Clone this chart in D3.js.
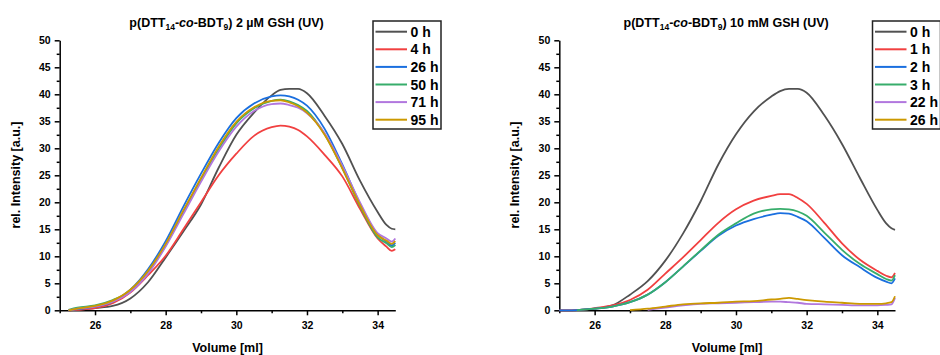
<html>
<head>
<script src="https://d3js.org/d3.v7.min.js"></script>
<style>
  body { margin: 0; background: #fff; }
  text { font-family: "Liberation Sans", Arial, sans-serif; font-weight: bold; fill: #000; }
  .axis path, .axis line { stroke: #000; stroke-width: 1.5; }
  .axis text { font-size: 10.5px; }
</style>
</head>
<body>
<svg id="chart" width="940" height="355"></svg>
<script>
// shared elution volumes (ml)
const volume = [25, 25.25, 25.5, 26, 26.5, 27, 27.5, 28, 28.5, 29, 29.5, 30, 30.5, 31, 31.25, 31.5, 31.75, 32, 32.5, 33, 33.5, 34, 34.25, 34.4, 34.5];

// panel 1: 2 uM GSH
const labels2uM = ["0 h", "4 h", "26 h", "50 h", "71 h", "95 h"];
const h0_2uM  = [null, 0, 0.1, 0.4, 0.8, 2.2, 5.2, 9.8, 14.6, 19.6, 26.4, 32.5, 36.6, 39.8, 40.8, 41, 41, 40.2, 36, 30.8, 24, 18.2, 15.8, 15.1, 15];
const h4_2uM  = [null, 0, 0.1, 0.4, 1.3, 3.3, 6.5, 10.1, 15, 20, 25, 29, 32.3, 33.9, 34.2, 34, 33.4, 32.2, 28.8, 24.8, 18.8, 13.3, 11.8, 11, 11.3];
const h26_2uM = [null, 0, 0.2, 0.7, 1.6, 3.8, 7.6, 12.8, 19.2, 25.3, 31, 35.6, 38.3, 39.6, 39.8, 39.6, 39, 37.9, 33.6, 27, 19.8, 14, 12.7, 12, 12.5];
const h50_2uM = [null, 0.1, 0.5, 0.9, 1.9, 3.6, 7.1, 12, 18.2, 24.2, 29.8, 34.6, 37.4, 38.8, 39, 38.7, 38, 36.9, 32.6, 26.3, 19.3, 13.5, 12.4, 11.7, 12.1];
const h71_2uM = [null, 0, 0.3, 0.7, 1.6, 3.4, 6.8, 11.8, 17.8, 23.8, 29.4, 34, 36.9, 38.2, 38.3, 38, 37.5, 36.5, 32.8, 26.8, 20, 14.3, 13.3, 12.7, 13.3];
const h95_2uM = [null, 0, 0.3, 0.8, 1.8, 3.8, 7.3, 12.3, 18.5, 24.5, 30.3, 34.9, 37.6, 38.8, 38.9, 38.5, 37.8, 36.6, 32.5, 26.3, 19.5, 13.9, 12.9, 12.3, 12.8];

// panel 2: 10 mM GSH
const labels10mM = ["0 h", "1 h", "2 h", "3 h", "22 h", "26 h"];
const h0_10mM  = [0, 0, 0.05, 0.3, 0.9, 2.9, 5.4, 9.2, 14.2, 20.2, 27, 32.6, 36.8, 39.6, 40.6, 41, 41, 40.3, 36.1, 30.8, 24.6, 18.6, 16.1, 15.2, 14.9];
const h1_10mM  = [0, 0, 0.05, 0.4, 0.9, 1.9, 3.8, 6.8, 9.8, 13, 16.2, 18.7, 20.3, 21.2, 21.5, 21.5, 20.8, 19.7, 16.2, 12.4, 9.4, 7.3, 6.4, 6.1, 6.9];
const h2_10mM  = [0, 0, 0.05, 0.3, 0.7, 1.5, 2.9, 5.2, 8.1, 11, 13.8, 15.7, 16.9, 17.7, 18, 17.9, 17.3, 16.5, 13.4, 10.2, 8, 6, 5.3, 5, 5.9];
const h3_10mM  = [null, null, 0.05, 0.3, 0.7, 1.5, 2.9, 5.2, 8.1, 11.1, 14, 16.1, 17.9, 18.7, 18.8, 18.7, 18.3, 17.5, 14.4, 11.2, 8.6, 6.7, 5.8, 5.5, 6.5];
const h22_10mM = [null, null, null, null, null, null, 0.1, 0.5, 0.9, 1.2, 1.3, 1.4, 1.5, 1.6, 1.6, 1.5, 1.4, 1.2, 1.1, 1.0, 0.9, 0.9, 1.0, 1.1, 2.3];
const h26_10mM = [null, null, null, null, null, 0.05, 0.3, 0.7, 1.1, 1.3, 1.4, 1.6, 1.7, 2.0, 2.1, 2.3, 2.1, 1.9, 1.6, 1.4, 1.2, 1.2, 1.3, 1.5, 2.6];

const colors = ["#515151", "#F14040", "#1A6FDF", "#37AD6B", "#B177DE", "#CC9900"];

const svg = d3.select("#chart");

function drawPanel(opt) {
  const x = d3.scaleLinear().domain([25, 34.5]).range([opt.left, opt.right]);
  const y = d3.scaleLinear().domain([0, 50]).range([310.3, 40.3]);

  const g = svg.append("g");

  // minor ticks
  const xAxisMinor = d3.axisBottom(x).tickValues([25, 27, 29, 31, 33]).tickSize(3).tickFormat("");
  const yAxisMinor = d3.axisLeft(y).tickValues(d3.range(2.5, 50, 5)).tickSize(3).tickFormat("");
  g.append("g").attr("class", "axis").attr("transform", `translate(0,${y(0)})`).call(xAxisMinor)
    .select(".domain").remove();
  g.append("g").attr("class", "axis").attr("transform", `translate(${opt.left},0)`).call(yAxisMinor)
    .select(".domain").remove();

  g.append("g").attr("class", "axis").attr("transform", `translate(0,${y(0)})`)
    .call(d3.axisBottom(x).tickValues([26, 28, 30, 32, 34]).tickSize(5).tickSizeOuter(0).tickPadding(6));
  g.append("g").attr("class", "axis").attr("transform", `translate(${opt.left},0)`)
    .call(d3.axisLeft(y).tickValues(d3.range(0, 51, 5)).tickSize(5).tickSizeOuter(0).tickPadding(4));

  const line = d3.line()
    .defined(d => d[1] != null)
    .x(d => x(d[0]))
    .y(d => y(d[1]))
    .curve(d3.curveMonotoneX);

  opt.series.forEach((s, i) => {
    g.append("path")
      .datum(volume.map((v, j) => [v, s[j]]))
      .attr("fill", "none")
      .attr("stroke", colors[i])
      .attr("stroke-width", 1.8)
      .attr("d", line);
  });

  // title
  const cx = (opt.left + opt.right) / 2;
  const t = g.append("text").attr("x", cx - 1).attr("y", 27).attr("text-anchor", "middle").style("font-size", "12.5px");
  t.append("tspan").text("p(DTT");
  t.append("tspan").attr("dy", 3).style("font-size", "8.5px").text("14");
  t.append("tspan").attr("dy", -3).text("-");
  t.append("tspan").style("font-style", "italic").text("co");
  t.append("tspan").text("-BDT");
  t.append("tspan").attr("dy", 3).style("font-size", "8.5px").text("9");
  t.append("tspan").attr("dy", -3).text(") " + opt.title);

  // axis titles
  g.append("text").attr("x", cx).attr("y", 352).attr("text-anchor", "middle")
    .style("font-size", "12.5px").text("Volume [ml]");
  g.append("text").attr("transform", `translate(${opt.left - 40},175) rotate(-90)`)
    .attr("text-anchor", "middle").style("font-size", "12.5px").text("rel. Intensity [a.u.]");

  // legend
  const lg = g.append("g").attr("transform", `translate(${opt.legendX},21)`);
  lg.append("rect").attr("width", 68).attr("height", 108)
    .attr("fill", "#fff").attr("stroke", "#222").attr("stroke-width", 1.5);
  opt.labels.forEach((lab, i) => {
    const ly = 10.7 + i * 17.6;
    lg.append("line").attr("x1", 2.5).attr("x2", 34).attr("y1", ly).attr("y2", ly)
      .attr("stroke", colors[i]).attr("stroke-width", 2);
    lg.append("text").attr("x", 37.5).attr("y", ly + 5).style("font-size", "14px").text(lab);
  });
}

drawPanel({
  left: 59.7, right: 395.3, legendX: 373,
  title: "2 \u00b5M GSH (UV)",
  labels: labels2uM,
  series: [h0_2uM, h4_2uM, h26_2uM, h50_2uM, h71_2uM, h95_2uM]
});

drawPanel({
  left: 559.3, right: 895, legendX: 872.5,
  title: "10 mM GSH (UV)",
  labels: labels10mM,
  series: [h0_10mM, h1_10mM, h2_10mM, h3_10mM, h22_10mM, h26_10mM]
});
</script>
</body>
</html>
